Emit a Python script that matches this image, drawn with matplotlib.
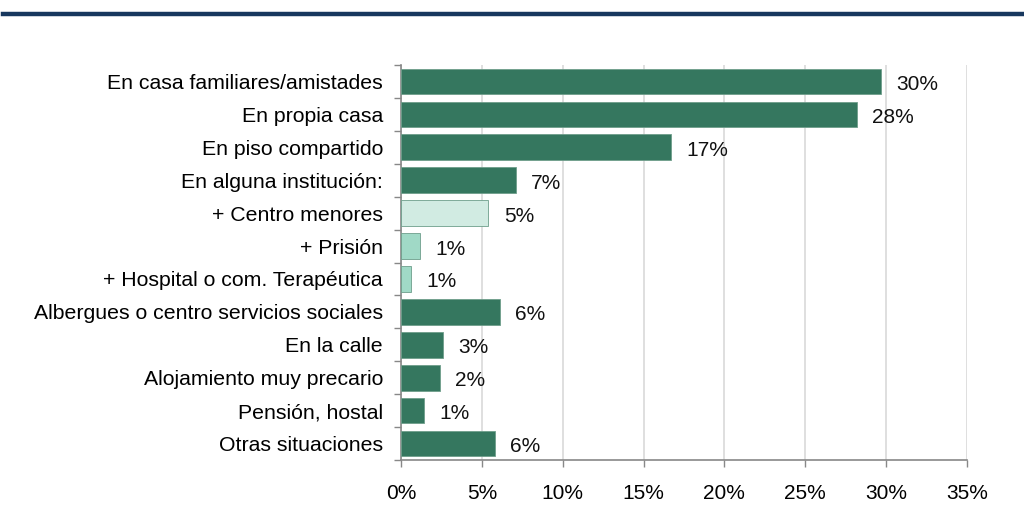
import matplotlib
matplotlib.use("Agg")
import matplotlib.pyplot as plt
import numpy as np

categories = ["En casa familiares/amistades", "En propia casa", "En piso compartido",
              "En alguna institución:", "+ Centro menores", "+ Prisión",
              "+ Hospital o com. Terapéutica", "Albergues o centro servicios sociales",
              "En la calle", "Alojamiento muy precario", "Pensión, hostal", "Otras situaciones"]
values = [29.7, 28.2, 16.7, 7.1, 5.4, 1.2, 0.6, 6.1, 2.6, 2.4, 1.4, 5.8]
labels = ["30%", "28%", "17%", "7%", "5%", "1%", "1%", "6%", "3%", "2%", "1%", "6%"]
colors = ["#35775F", "#35775F", "#35775F", "#35775F", "#D1EBE2", "#A0D9C6", "#A0D9C6",
          "#35775F", "#35775F", "#35775F", "#35775F", "#35775F"]
xticks = [0, 5, 10, 15, 20, 25, 30, 35]

plt.rcParams['font.family'] = ['Liberation Sans', 'DejaVu Sans']
fig = plt.figure(figsize=(10.24, 5.32), dpi=100)
ax = fig.add_axes([401/1024, 1-460/532, (967-401)/1024, (460-65)/532])

y = np.arange(len(categories))
ax.barh(y, values, height=0.78, color=colors, edgecolor="#6E9E8B", linewidth=0.6, zorder=3)
for yi, v, lab in zip(y, values, labels):
    ax.text(v + 0.95, yi + 0.09, lab, va="center", ha="left", fontsize=15, color="#111111")

ax.set_xlim(0, 35)
ax.set_ylim(len(categories) - 0.5, -0.5)
ax.set_xticks(xticks)
ax.set_xticklabels([f"{t}%" for t in xticks], fontsize=15)
ax.set_yticks(y)
ax.set_yticklabels(categories, fontsize=15.3)
ax.tick_params(axis="y", length=0, pad=13)
ax.set_yticks(np.arange(-0.5, len(categories)), minor=True)
ax.tick_params(axis="y", which="minor", length=5, color="#888888", width=1)
ax.tick_params(axis="x", length=5, color="#888888", width=1, pad=12)
ax.grid(axis="x", color="#D9D9D9", linewidth=1.2, zorder=0)
for s in ["top", "right"]:
    ax.spines[s].set_visible(False)
for s in ["left", "bottom"]:
    ax.spines[s].set_color("#888888")
    ax.spines[s].set_linewidth(1.2)

fig.add_artist(plt.Line2D([3/1024, 1], [1-14/532, 1-14/532], color="#17375E", linewidth=3.2))
fig.savefig("out.png", dpi=100)
